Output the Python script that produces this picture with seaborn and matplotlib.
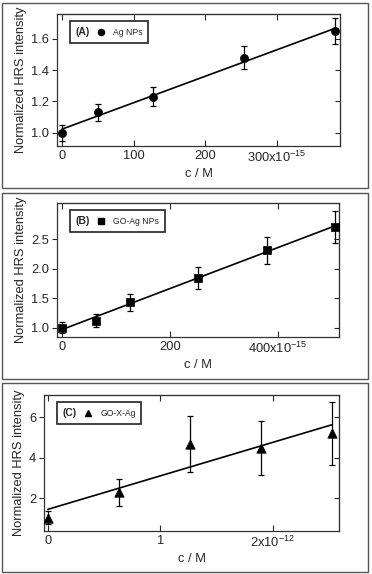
import matplotlib
matplotlib.use("Agg")
import numpy as np
import pandas as pd
import matplotlib.pyplot as plt
import seaborn as sns
from matplotlib.lines import Line2D
from matplotlib.patches import Rectangle
from matplotlib.offsetbox import AnchoredOffsetbox, HPacker, TextArea, DrawingArea

# Datos (x en unidades de 1e-15 M para A y B, 1e-12 M para C)
x_a = [0, 50, 127, 254, 381]
y_a = [1.00, 1.13, 1.23, 1.48, 1.65]
err_a = [0.05, 0.057, 0.062, 0.075, 0.082]

x_b = [0, 63, 126, 252, 379, 505]
y_b = [1.00, 1.12, 1.43, 1.84, 2.32, 2.71]
err_b = [0.10, 0.11, 0.15, 0.19, 0.23, 0.27]

x_c = [0, 0.63, 1.265, 1.90, 2.53]
y_c = [1.05, 2.30, 4.70, 4.47, 5.20]
err_c = [0.32, 0.66, 1.38, 1.33, 1.55]

ticks_a = [0, 100, 200, 300]
ticklabels_a = ["0", "100", "200", "300x10$^{-15}$"]
ticks_b = [0, 200, 400]
ticklabels_b = ["0", "200", "400x10$^{-15}$"]
ticks_c = [0, 1, 2]
ticklabels_c = ["0", "1", "2x10$^{-12}$"]

sns.set_style("ticks")
plt.rcParams["font.family"] = ["Liberation Sans", "DejaVu Sans"]
plt.rcParams["mathtext.fontset"] = "custom"
plt.rcParams["mathtext.rm"] = "Liberation Sans"

W, H = 372, 574
fig = plt.figure(figsize=(W / 100, H / 100), dpi=100)
FS = 9.3


def px_axes(l, t, r, b):
    return fig.add_axes([l / W, 1 - b / H, (r - l) / W, (b - t) / H])


paneles = [
    dict(x=x_a, y=y_a, e=err_a, m="o", ms=34, tag="(A)", lab="Ag NPs",
         box=(57, 14, 340, 146), frame=(2, 3, 368, 188),
         xlim=(-7, 388), ylim=(0.915, 1.76), yt=[1.0, 1.2, 1.4, 1.6],
         ytl=["1.0", "1.2", "1.4", "1.6"], xt=ticks_a, xtl=ticklabels_a),
    dict(x=x_b, y=y_b, e=err_b, m="s", ms=34, tag="(B)", lab="GO-Ag NPs",
         box=(57, 203, 339, 337), frame=(2, 193, 368, 379),
         xlim=(-9, 513), ylim=(0.84, 3.12), yt=[1.0, 1.5, 2.0, 2.5],
         ytl=["1.0", "1.5", "2.0", "2.5"], xt=ticks_b, xtl=ticklabels_b),
    dict(x=x_c, y=y_c, e=err_c, m="^", ms=46, tag="(C)", lab="GO-X-Ag",
         box=(44, 395, 339, 531), frame=(2, 383, 368, 572),
         xlim=(-0.033, 2.59), ylim=(0.385, 7.1), yt=[2, 4, 6],
         ytl=["2", "4", "6"], xt=ticks_c, xtl=ticklabels_c),
]

for p in paneles:
    # marco exterior de cada panel
    fl, ft, fr, fb = p["frame"]
    fig.patches.append(Rectangle((fl / W, 1 - fb / H), (fr - fl) / W, (fb - ft) / H,
                                 transform=fig.transFigure, fill=False,
                                 edgecolor="#555555", linewidth=1.0))

    ax = px_axes(*p["box"])
    df = pd.DataFrame({"c": p["x"], "I": p["y"]})
    ax.errorbar(p["x"], p["y"], yerr=p["e"], fmt="none", ecolor="black",
                elinewidth=0.9, capsize=2.5, capthick=0.9, zorder=2)
    sns.regplot(data=df, x="c", y="I", ax=ax, ci=None, scatter=False,
                line_kws=dict(color="black", lw=1.2))
    sns.scatterplot(data=df, x="c", y="I", ax=ax, marker=p["m"], s=p["ms"],
                    color="black", edgecolor="black", linewidth=0.5, zorder=3)

    ax.set_xlim(*p["xlim"])
    ax.set_ylim(*p["ylim"])
    ax.set_xticks(p["xt"])
    ax.set_xticklabels(p["xtl"])
    ax.set_yticks(p["yt"])
    ax.set_yticklabels(p["ytl"])
    ax.set_xlabel("c / M", fontsize=FS, labelpad=2)
    ax.set_ylabel("Normalized HRS intensity", fontsize=FS, labelpad=3)
    for s in ax.spines.values():
        s.set_visible(True)
        s.set_color("#333333")
        s.set_linewidth(0.9)
    ax.tick_params(axis="x", direction="in", length=4, width=0.8, labelsize=FS, pad=3)
    ax.tick_params(axis="y", direction="out", length=3.5, width=0.8, labelsize=FS, pad=2)
    top = ax.secondary_xaxis("top")
    top.set_xticks(p["xt"])
    top.tick_params(direction="in", length=4, width=0.8, labeltop=False)
    right = ax.secondary_yaxis("right")
    right.set_yticks(p["yt"])
    right.tick_params(direction="in", length=3.5, width=0.8, labelright=False)

    # leyenda con etiqueta del panel
    da = DrawingArea(10, 8, 0, 0)
    da.add_artist(Line2D([5], [4], marker=p["m"], ms=4.4, color="black", linestyle="none"))
    caja = HPacker(children=[
        TextArea(p["tag"], textprops=dict(fontsize=7.5, fontweight="bold")),
        da,
        TextArea(p["lab"], textprops=dict(fontsize=6.2)),
    ], align="center", pad=0, sep=3.5)
    ab = AnchoredOffsetbox(loc="upper left", child=caja, pad=0.4, borderpad=0.5,
                           frameon=True, bbox_to_anchor=(0.02, 1.0),
                           bbox_transform=ax.transAxes)
    ab.patch.set_edgecolor("#222222")
    ab.patch.set_linewidth(1.2)
    ax.add_artist(ab)

fig.savefig("out.png", dpi=100)
